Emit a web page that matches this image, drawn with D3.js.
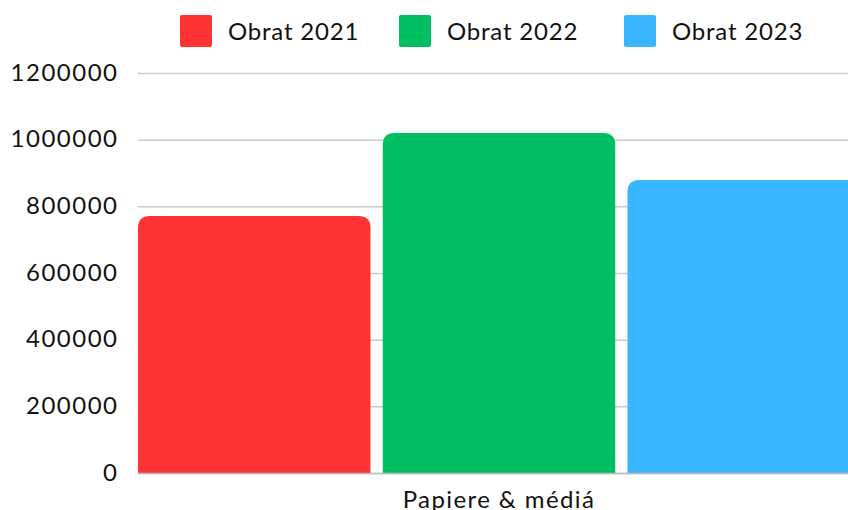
<!DOCTYPE html>
<html><head><meta charset="utf-8">
<script src="https://cdn.jsdelivr.net/npm/d3@7"></script>
<style>body{margin:0;overflow:hidden;background:#fff}svg{display:block;font-family:Lato,"Open Sans",sans-serif}</style>
</head><body>
<svg id="c" width="848" height="510"></svg>
<script>
const categories = ["Papiere & médiá"];
const seriesNames = ["Obrat 2021", "Obrat 2022", "Obrat 2023"];
const seriesColors = ["#ff3333", "#00bf63", "#38b6ff"];
const values2021 = [771000];
const values2022 = [1020000];
const values2023 = [879000];
const yTicks = [0, 200000, 400000, 600000, 800000, 1000000, 1200000];

(function () {
const series = [values2021, values2022, values2023];
const svg = d3.select("#c");
const pLeft = 138, pRight = 860, pTop = 73, pBottom = 473;

const y = d3.scaleLinear().domain([0, 1200000]).range([pBottom, pTop]);
const x0 = d3.scaleBand().domain(categories).range([pLeft, pRight]).padding(0);
const x1 = d3.scaleBand().domain(seriesNames).range([0, x0.bandwidth()]).paddingInner(0.05).paddingOuter(0);

svg.append("g").selectAll("line").data(yTicks).join("line")
  .attr("x1", pLeft).attr("x2", pRight)
  .attr("y1", d => y(d) + 0.5).attr("y2", d => y(d) + 0.5)
  .attr("stroke", "#cccccc").attr("stroke-width", 1.5);

const yAxis = d3.axisLeft(y).tickValues(yTicks).tickSize(0).tickPadding(0).tickFormat(d3.format("d"));
const ga = svg.append("g").attr("transform", "translate(118.5,0)").call(yAxis);
ga.select(".domain").remove();
ga.selectAll("text").attr("font-size", 24).attr("fill", "#111").attr("font-family", "Lato")
  .attr("letter-spacing", 1.5).attr("dy", "0.3em");

const r = 12;
function topRounded(x, yv, w, h) {
  const rr = Math.min(r, h, w / 2);
  return `M${x},${yv + h}V${yv + rr}Q${x},${yv} ${x + rr},${yv}H${x + w - rr}Q${x + w},${yv} ${x + w},${yv + rr}V${yv + h}Z`;
}
categories.forEach((cat, ci) => {
  series.forEach((vals, si) => {
    const bx = x0(cat) + x1(seriesNames[si]);
    const by = y(vals[ci]);
    svg.append("path").attr("d", topRounded(bx, by, x1.bandwidth(), pBottom - by)).attr("fill", seriesColors[si]);
  });
});

svg.append("line").attr("x1", pLeft).attr("x2", pRight).attr("y1", pBottom + 0.5).attr("y2", pBottom + 0.5)
  .attr("stroke", "#bbbbbb").attr("stroke-width", 1.5);
const xAxis = d3.axisBottom(x0).tickSize(0).tickPadding(0);
const gx = svg.append("g").attr("transform", `translate(0,${pBottom})`).call(xAxis);
gx.select(".domain").remove();
gx.selectAll("text").attr("font-size", 24).attr("fill", "#111").attr("font-family", "Lato")
  .attr("letter-spacing", 1.4).attr("dy", "1.45em");

const legendX = [180, 399, 624];
const lg = svg.append("g");
seriesNames.forEach((n, i) => {
  lg.append("rect").attr("x", legendX[i]).attr("y", 15).attr("width", 32).attr("height", 32).attr("rx", 2).attr("fill", seriesColors[i]);
  lg.append("text").attr("x", legendX[i] + 48).attr("y", 31).attr("dy", "0.36em").attr("font-size", 24)
    .attr("letter-spacing", 0.8).attr("fill", "#111").text(n);
});
})();
</script>
</body></html>
